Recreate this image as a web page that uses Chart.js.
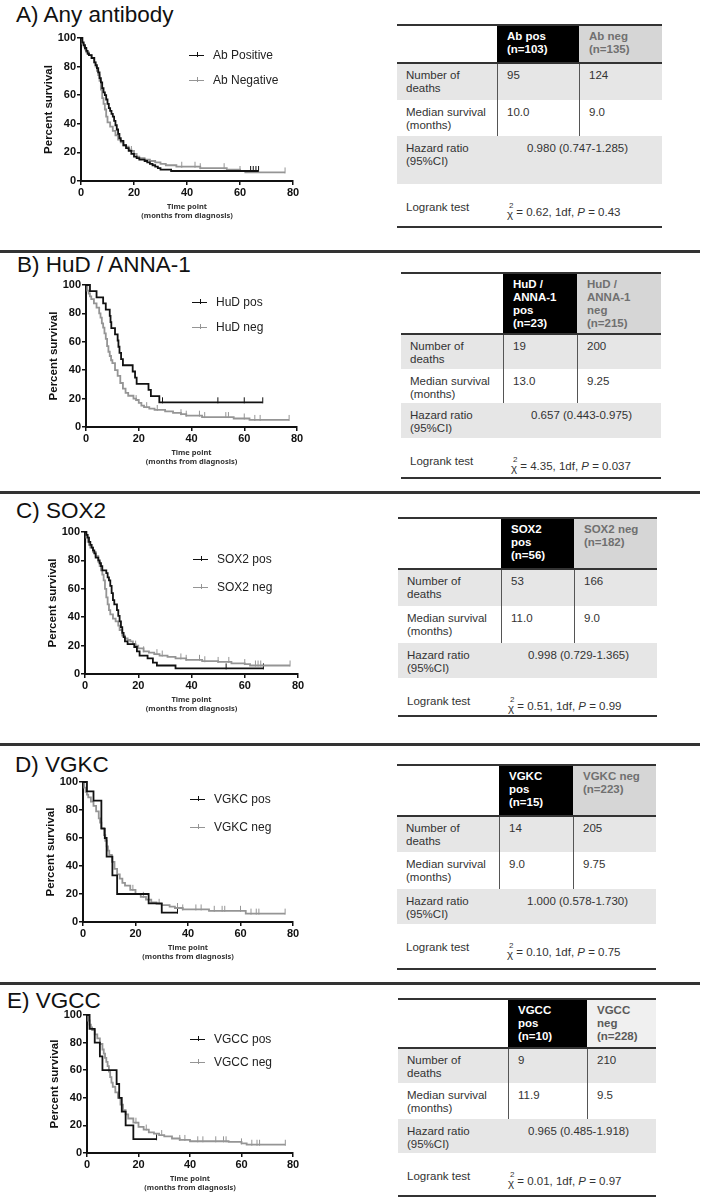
<!DOCTYPE html>
<html>
<head>
<meta charset="utf-8">
<script src="https://cdn.jsdelivr.net/npm/chart.js@4.4.0/dist/chart.umd.min.js"></script>
<style>
  body { margin: 0; background: #fff; }
  #page { position: relative; width: 706px; height: 1199px; overflow: hidden;
          font-family: "Liberation Sans", Arial, sans-serif; color: #333; }
  .ttl { position: absolute; font-size: 22.5px; line-height: 1; color: #111; white-space: nowrap; }
  .rule { position: absolute; left: 0; width: 700px; height: 2.5px; background: #333; }
  .leg { position: absolute; font-size: 12px; line-height: 14px; color: #222; white-space: nowrap; padding-left: 24px; }
  .leg .sw { position: absolute; left: 0; top: 7px; width: 15px; height: 0; border-top: 1.8px solid; }
  .leg .sw i { position: absolute; left: 8px; top: -4.5px; width: 0; height: 5px; border-left: 1px solid; }
  .cell { position: absolute; box-sizing: border-box; font-size: 11.5px; line-height: 13px;
          padding: 5.5px 0 0 9px; white-space: nowrap; }
  .ln { position: absolute; background: #333; }
  .chi { position: relative; top: 2px; }
  .chi b { position: absolute; left: 2px; top: -9px; font-size: 8px; font-weight: normal; }
  canvas { position: absolute; }
</style>
</head>
<body>
<div id="page"></div>
<script>
// KM curves: [months, percent survival] at each drop; censor = months of tick marks
const abPos = [[0,100],[0.5,97],[1,95],[1.5,93],[2,91],[2.5,89],[3,88],[4,86],[5,83],[5.5,81],[6,79],[6.5,76],[7,72],[7.5,69],[8,65],[8.5,62],[9,60],[9.5,57],[10,54],[10.5,51],[11,49],[11.5,47],[12,45],[12.5,42],[13,39],[13.5,36],[14,33],[14.5,30],[15,28],[16,25],[17,23],[18,21],[19,19],[20,17],[21,16],[22,15],[24,14],[25,13],[26,12],[27,11],[28,10],[29,9],[30,8],[34,7],[67,7]];
const abNeg = [[0,100],[0.5,96],[1,94],[1.5,92],[2,90],[3,88],[4,86],[5,83],[5.5,80],[6,77],[6.5,74],[7,70],[7.5,64],[8,58],[8.5,54],[9,50],[9.5,45],[10,41],[11,38],[12,35],[13,32],[14,29],[15,27],[16,25],[17,24],[18,22],[19,21],[20,19],[21,17],[22,16],[24,15],[26,14],[28,13],[30,12],[32,11],[36,10],[45,9],[55,8],[60,7],[62,6],[77,6]];
const abPosCensor = [64,65,66,67];
const abNegCensor = [19,38,43,45,54,60,77];

const hudPos = [[0,100],[1.5,95.7],[4,91.3],[6.5,87],[7.5,82.6],[9,78.3],[9.3,73.9],[9.6,69.6],[11,65.2],[12,60.9],[12.3,56.5],[12.7,52.2],[13.3,47.8],[14,43.5],[17.7,39.1],[18.6,34.8],[19.2,30.4],[23.7,26.1],[24.6,21.7],[27.8,17.4],[67,17.4]];
const hudNeg = [[0,100],[0.5,96],[1,94],[1.5,92],[2,90],[3,87],[4,84],[5,80],[5.5,77],[6,73],[6.5,70],[7,66],[7.5,62],[8,57],[8.5,53],[9,50],[9.5,47],[10,45],[11,40],[12,36],[13,31],[14,27],[15,24],[16,22],[18,20],[19,19],[20,17],[21,15],[22,14],[24,13],[26,12],[30,11],[33,10],[36,9],[38,8],[44,7],[56,6],[62,5],[77,5]];
const hudPosCensor = [29,50,60,67];
const hudNegCensor = [19,23,27,36,38,43,45,53,54,60,64,66,77];

const sox2Pos = [[0,100],[0.5,98],[1,96],[1.5,93],[2,91],[2.5,89],[3,87],[3.5,85],[4,82],[5,80],[5.5,78],[6,76],[6.5,73],[8,71],[8.5,68],[9,66],[9.5,62],[10,57],[10.5,52],[11,49],[12,45],[12.5,41],[13,37],[13.5,33],[14,29],[14.5,26],[15,23],[16,21],[18.5,19],[19.5,16],[20.5,13],[23.5,11],[25.5,8],[27,6],[34,4],[67,4]];
const sox2Neg = [[0,100],[0.5,96],[1,93],[1.5,91],[2,89],[3,86],[4,83],[5,79],[5.5,76],[6,73],[6.5,70],[7,66],[7.5,60],[8,54],[8.5,49],[9,45],[9.5,42],[10.5,39],[11.5,37],[12.5,34],[13,31],[14,27],[15,25],[16,24],[17,23],[18,21],[19,20],[20,18],[22,16],[24,15],[26,14],[28,13],[31,12],[34,11],[38,10],[44,9],[50,8.5],[55,7.5],[60,7],[62,6],[77,6]];
const sox2PosCensor = [53,67];
const sox2NegCensor = [19,22,27,29,36,38,43,45,50,54,60,64,65,66,77];

const vgkcPos = [[0,100],[1.5,93.3],[4,86.7],[7,66.7],[8.3,60],[9,46.7],[11.2,33.3],[13,20],[25,13.3],[30,6.7],[36,6.7]];
const vgkcNeg = [[0,100],[0.5,96],[1,93],[1.5,91],[2,89],[3,86],[4,83],[5,79],[6,74],[6.5,71],[7,67],[8,62],[8.5,58],[9,54],[9.5,51],[10,48],[11,43],[12,38],[13,34],[14,31],[15,28],[16,26],[18,23],[20,20],[22,18],[24,16],[26,14],[28,13],[30,12],[33,11],[35,10],[38,9],[48,8],[62,6],[77,6]];
const vgkcPosCensor = [36];
const vgkcNegCensor = [19,23,29,36,38,43,45,50,53,54,60,64,66,67,77];

const vgccPos = [[0,100],[1,90],[3,80],[5,70],[6,60],[11.5,50],[12.5,40],[13.5,30],[15,20],[18,10],[27,10]];
const vgccNeg = [[0,100],[0.5,96],[1,93],[1.5,91],[2,89],[3,86],[4,83],[5,79],[6,75],[6.5,72],[7,69],[7.5,66],[8,63],[8.5,59],[9,55],[9.5,51],[10,48],[11,44],[12,40],[13,35],[14,31],[15,28],[16,25],[18,22],[20,19],[22,17],[24,15],[26,14],[28,13],[30,12],[33,10.5],[36,9.5],[40,8.5],[55,8],[60,7],[62,6],[77,6]];
const vgccPosCensor = [27];
const vgccNegCensor = [19,23,29,36,38,43,45,50,53,54,60,64,66,67,77];

const xTicks = [0, 20, 40, 60, 80];
const yTicks = [0, 20, 40, 60, 80, 100];

// table text
const rowLabels = ['Number of<br>deaths', 'Median survival<br>(months)', 'Hazard ratio<br>(95%CI)', 'Logrank test'];
const abHeads = ['Ab pos<br>(n=103)', 'Ab neg<br>(n=135)'];
const abDeaths = ['95', '124'];
const abMedian = ['10.0', '9.0'];
const abHazard = '0.980 (0.747-1.285)';
const abLogrank = ['0.62', '0.43'];
const hudHeads = ['HuD /<br>ANNA-1<br>pos<br>(n=23)', 'HuD /<br>ANNA-1<br>neg<br>(n=215)'];
const hudDeaths = ['19', '200'];
const hudMedian = ['13.0', '9.25'];
const hudHazard = '0.657 (0.443-0.975)';
const hudLogrank = ['4.35', '0.037'];
const sox2Heads = ['SOX2<br>pos<br>(n=56)', 'SOX2 neg<br>(n=182)'];
const sox2Deaths = ['53', '166'];
const sox2Median = ['11.0', '9.0'];
const sox2Hazard = '0.998 (0.729-1.365)';
const sox2Logrank = ['0.51', '0.99'];
const vgkcHeads = ['VGKC<br>pos<br>(n=15)', 'VGKC neg<br>(n=223)'];
const vgkcDeaths = ['14', '205'];
const vgkcMedian = ['9.0', '9.75'];
const vgkcHazard = '1.000 (0.578-1.730)';
const vgkcLogrank = ['0.10', '0.75'];
const vgccHeads = ['VGCC<br>pos<br>(n=10)', 'VGCC<br>neg<br>(n=228)'];
const vgccDeaths = ['9', '210'];
const vgccMedian = ['11.9', '9.5'];
const vgccHazard = '0.965 (0.485-1.918)';
const vgccLogrank = ['0.01', '0.97'];

const BLACK = '#111';
const GREY = '#959595';

const panels = [
  { title: 'A) Any antibody', tx: 16, ty: 4, rule: null,
    x0: 81, x80: 293, y100: 38, y0: 181, legX: 189, legY: [55, 80],
    names: ['Ab Positive', 'Ab Negative'], curves: [abPos, abNeg], censors: [abPosCensor, abNegCensor],
    tLeft: 397, tTop: 24, cols: [100, 82, 83], rows: [39, 37, 36, 48, 43],
    heads: abHeads, deaths: abDeaths, median: abMedian, hazard: abHazard, logrank: abLogrank,
    negBg: '#d6d6d6', negColor: '#707070' },
  { title: 'B) HuD / ANNA-1', tx: 17, ty: 254, rule: 250,
    x0: 86, x80: 297, y100: 285, y0: 427, legX: 192, legY: [302, 327],
    names: ['HuD pos', 'HuD neg'], curves: [hudPos, hudNeg], censors: [hudPosCensor, hudNegCensor],
    tLeft: 401, tTop: 272, cols: [102, 74, 84], rows: [62, 35, 34, 35, 40],
    heads: hudHeads, deaths: hudDeaths, median: hudMedian, hazard: hudHazard, logrank: hudLogrank,
    negBg: '#d6d6d6', negColor: '#707070' },
  { title: 'C) SOX2', tx: 16, ty: 500, rule: 491,
    x0: 85, x80: 298, y100: 532, y0: 674, legX: 193, legY: [559, 587],
    names: ['SOX2 pos', 'SOX2 neg'], curves: [sox2Pos, sox2Neg], censors: [sox2PosCensor, sox2NegCensor],
    tLeft: 398, tTop: 517, cols: [103, 73, 83], rows: [52, 37, 37, 35, 38],
    heads: sox2Heads, deaths: sox2Deaths, median: sox2Median, hazard: sox2Hazard, logrank: sox2Logrank,
    negBg: '#d6d6d6', negColor: '#707070' },
  { title: 'D) VGKC', tx: 15, ty: 754, rule: 743,
    x0: 83, x80: 293, y100: 782, y0: 922, legX: 190, legY: [799, 827],
    names: ['VGKC pos', 'VGKC neg'], curves: [vgkcPos, vgkcNeg], censors: [vgkcPosCensor, vgkcNegCensor],
    tLeft: 397, tTop: 764, cols: [102, 74, 83], rows: [52, 36, 37, 35, 45],
    heads: vgkcHeads, deaths: vgkcDeaths, median: vgkcMedian, hazard: vgkcHazard, logrank: vgkcLogrank,
    negBg: '#d6d6d6', negColor: '#707070' },
  { title: 'E) VGCC', tx: 7, ty: 990, rule: 982,
    x0: 87, x80: 293, y100: 1015, y0: 1153, legX: 190, legY: [1039, 1062],
    names: ['VGCC pos', 'VGCC neg'], curves: [vgccPos, vgccNeg], censors: [vgccPosCensor, vgccNegCensor],
    tLeft: 398, tTop: 998, cols: [110, 79, 69], rows: [50, 35, 36, 34, 43],
    heads: vgccHeads, deaths: vgccDeaths, median: vgccMedian, hazard: vgccHazard, logrank: vgccLogrank,
    negBg: '#f0f0f0', negColor: '#5a5a5a' },
];

const page = document.getElementById('page');

function el(cls, css, html) {
  const d = document.createElement('div');
  d.className = cls;
  d.style.cssText = css;
  if (html != null) d.innerHTML = html;
  page.appendChild(d);
  return d;
}

// survival value of a step curve at time t (so censor ticks sit on the line)
function survAt(curve, t) {
  let s = curve[0][1];
  for (const [x, y] of curve) if (x <= t) s = y;
  return s;
}

// censor mark: short vertical tick standing on the curve
function censorMark(color) {
  const c = document.createElement('canvas');
  c.width = 3; c.height = 12;
  const g = c.getContext('2d');
  g.strokeStyle = color; g.lineWidth = 1;
  g.beginPath(); g.moveTo(1.5, 1); g.lineTo(1.5, 7); g.stroke();
  return c;
}

function makeChart(p) {
  const CL = p.x0 - 44, PT = 8, PR = 12, HB = 40;
  const w = p.x80 + PR - CL, h = p.y0 - p.y100 + PT + HB;
  const canvas = document.createElement('canvas');
  canvas.width = w; canvas.height = h;
  canvas.style.cssText = `left:${CL}px;top:${p.y100 - PT}px;width:${w}px;height:${h}px`;
  page.appendChild(canvas);

  const colors = [BLACK, GREY];
  const datasets = [];
  p.curves.forEach((c, i) => {
    datasets.push({
      type: 'line', data: c.map(([x, y]) => ({ x, y })), stepped: true,
      borderColor: colors[i], borderWidth: 1.8, pointRadius: 0, fill: false, clip: 4,
    });
  });
  p.censors.forEach((ts, i) => {
    datasets.push({
      type: 'scatter', data: ts.map(t => ({ x: t, y: survAt(p.curves[i], t) })),
      pointStyle: censorMark(colors[i]), pointRadius: 3, showLine: false, clip: 8,
    });
  });

  new Chart(canvas, {
    type: 'line',
    data: { datasets },
    options: {
      responsive: false, animation: false, devicePixelRatio: 1,
      layout: { padding: { left: 0, top: PT, right: PR, bottom: 0 } },
      plugins: { legend: { display: false }, tooltip: { enabled: false } },
      scales: {
        x: {
          type: 'linear', min: 0, max: 80,
          afterFit: s => { s.height = HB; },
          afterBuildTicks: s => { s.ticks = xTicks.map(v => ({ value: v })); },
          border: { color: BLACK, width: 2 },
          grid: { drawOnChartArea: false, tickLength: 4, color: BLACK, lineWidth: 1.5 },
          ticks: { color: BLACK, padding: 1, font: { family: 'Liberation Sans', weight: 'bold', size: 11 } },
          title: { display: true, text: ['Time point', '(months from diagnosis)'], color: '#333',
                   font: { family: 'Noto Sans', weight: 'bold', size: 7.5, lineHeight: 1.2 },
                   padding: { top: 0, bottom: 0.5 } },
        },
        y: {
          min: 0, max: 100,
          afterFit: s => { s.width = 44; },
          afterBuildTicks: s => { s.ticks = yTicks.map(v => ({ value: v })); },
          border: { color: BLACK, width: 2 },
          grid: { drawOnChartArea: false, tickLength: 4, color: BLACK, lineWidth: 1.5 },
          ticks: { color: BLACK, padding: 1, font: { family: 'Liberation Sans', weight: 'bold', size: 11 } },
          title: { display: true, text: 'Percent survival', color: BLACK,
                   font: { family: 'Liberation Sans', weight: 'bold', size: 11.5, lineHeight: 1.2 },
                   padding: { top: 5, bottom: 0 } },
        },
      },
    },
  });
}

function makeLegend(p) {
  [BLACK, GREY].forEach((c, i) => {
    el('leg', `left:${p.legX}px;top:${p.legY[i] - 7}px`,
       `<span class="sw" style="border-color:${c}"><i style="border-color:${c}"></i></span>${p.names[i]}`);
  });
}

function makeTable(p) {
  const L = p.tLeft, T = p.tTop;
  const [c1, c2, c3] = p.cols;
  const [h0, h1, h2, h3, h4] = p.rows;
  const W = c1 + c2 + c3;
  const cell = (x, y, w, h, html, css) =>
    el('cell', `left:${x}px;top:${y}px;width:${w}px;height:${h}px;${css || ''}`, html);

  // header
  cell(L + c1, T, c2, h0, p.heads[0], 'background:#000;color:#fff;font-weight:bold;padding:6px 0 0 10px');
  cell(L + c1 + c2, T, c3, h0, p.heads[1], `background:${p.negBg};color:${p.negColor};font-weight:bold;padding:6px 0 0 10px`);
  // deaths row
  let y = T + h0;
  cell(L, y, W, h1, '', 'background:#e6e6e6');
  cell(L, y, c1, h1, rowLabels[0]);
  cell(L + c1, y, c2, h1, p.deaths[0], 'padding-left:10px');
  cell(L + c1 + c2, y, c3, h1, p.deaths[1], 'padding-left:10px');
  // median row
  y += h1;
  cell(L, y, c1, h2, rowLabels[1]);
  cell(L + c1, y, c2, h2, p.median[0], 'padding-left:10px');
  cell(L + c1 + c2, y, c3, h2, p.median[1], 'padding-left:10px');
  // vertical separators in rows 1-2
  el('ln', `left:${L + c1}px;top:${T + h0}px;width:1px;height:${h1 + h2}px;background:#555`);
  el('ln', `left:${L + c1 + c2}px;top:${T + h0}px;width:1px;height:${h1 + h2}px;background:#555`);
  // hazard row
  y += h2;
  cell(L, y, W, h3, '', 'background:#e6e6e6');
  cell(L, y, c1, h3, rowLabels[2]);
  cell(L + 130, y, W - 130, h3, p.hazard, 'padding-left:0');
  // logrank row
  y += h3;
  cell(L, y, c1, h4, rowLabels[3], 'padding-top:17px');
  cell(L + 110, y, W - 110, h4,
       `<span class="chi">&chi;<b>2</b></span> = ${p.logrank[0]}, 1df, <i>P</i> = ${p.logrank[1]}`,
       'padding:22px 0 0 0');
  // horizontal lines
  el('ln', `left:${L}px;top:${T}px;width:${W}px;height:1.5px`);
  el('ln', `left:${L}px;top:${T + h0 - 1}px;width:${W}px;height:1.5px`);
  el('ln', `left:${L}px;top:${y + h4 - 1}px;width:${W}px;height:1.5px`);
}

Chart.defaults.font.family = 'Liberation Sans';

panels.forEach(p => {
  if (p.rule != null) el('rule', `top:${p.rule}px`);
  el('ttl', `left:${p.tx}px;top:${p.ty}px`, p.title);
  makeChart(p);
  makeLegend(p);
  makeTable(p);
});
</script>
</body>
</html>
